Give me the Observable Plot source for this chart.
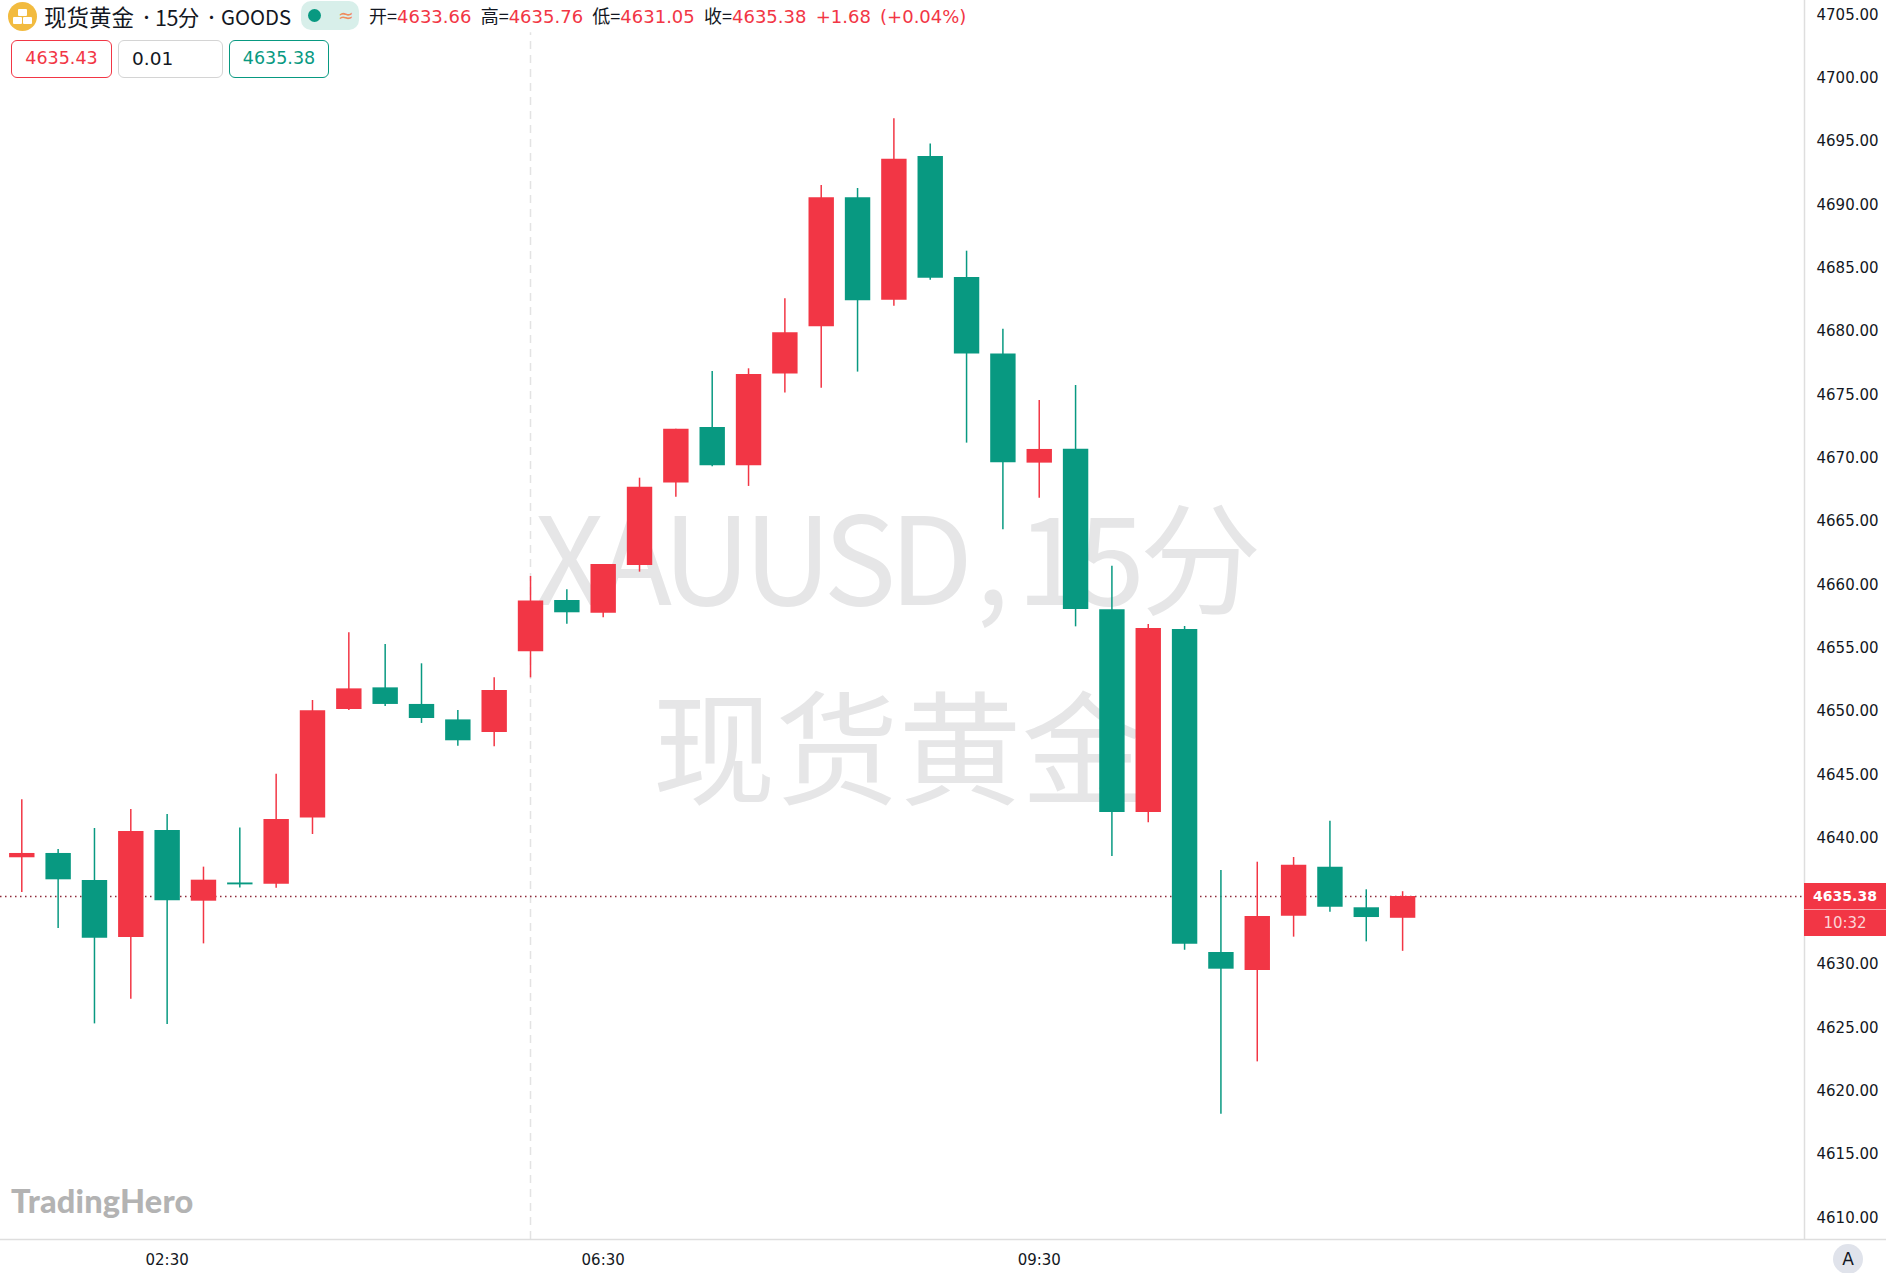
<!DOCTYPE html>
<html>
<head>
<meta charset="utf-8">
<script src="https://cdn.jsdelivr.net/npm/d3@7"></script>
<script src="https://cdn.jsdelivr.net/npm/@observablehq/plot@0.6"></script>
<style>
html,body{margin:0;padding:0;background:#fff;}
#wrap{position:relative;width:1886px;height:1273px;overflow:hidden;font-family:"DejaVu Sans",sans-serif;color:#131722;}
#wrap svg{display:block;}
.ab{position:absolute;white-space:nowrap;}
.cjk{font-family:"Noto Sans CJK SC","DejaVu Sans",sans-serif;}
.box{box-sizing:border-box;border-radius:6px;height:38px;top:40px;line-height:35px;font-size:17.5px;background:#fff;}
.r{color:#f23645;}
.wm-tight{letter-spacing:-7px;}
</style>
</head>
<body>
<div id="wrap"></div>
<script>
const opens  = [4638.44,4638.78,4636.64,4632.14,4640.59,4635.01,4636.45,4636.35,4641.59,4650.15,4651.86,4650.55,4649.33,4648.33,4654.71,4658.76,4657.76,4661.53,4668.05,4672.43,4669.40,4676.64,4680.38,4690.57,4682.48,4693.83,4684.27,4678.22,4669.61,4670.71,4658.02,4642.02,4656.47,4630.96,4629.53,4633.83,4637.70,4634.49,4633.66];
const highs  = [4643.02,4639.09,4640.75,4642.25,4641.86,4637.70,4640.80,4645.04,4650.86,4656.21,4655.29,4653.76,4650.07,4652.65,4660.66,4659.60,4661.60,4668.42,4672.29,4676.85,4677.06,4682.59,4691.54,4691.30,4696.81,4694.81,4686.35,4680.19,4674.56,4675.74,4661.47,4656.86,4656.71,4637.43,4638.09,4638.46,4641.33,4635.91,4635.76];
const lows   = [4635.70,4632.85,4625.32,4627.27,4625.27,4631.64,4636.06,4636.04,4640.28,4650.07,4650.39,4649.05,4647.25,4647.20,4652.65,4656.89,4657.39,4661.00,4666.92,4669.32,4667.77,4675.14,4675.53,4676.80,4682.01,4684.06,4671.19,4664.34,4666.84,4656.68,4638.54,4641.20,4631.14,4618.19,4622.32,4632.17,4634.14,4631.80,4631.05];
const closes = [4638.78,4636.70,4632.09,4640.51,4635.04,4636.67,4636.30,4641.46,4650.05,4651.78,4650.55,4649.44,4647.68,4651.65,4658.73,4657.79,4661.60,4667.71,4672.29,4669.40,4676.61,4679.90,4690.57,4682.43,4693.62,4684.22,4678.22,4669.64,4670.69,4658.05,4642.02,4656.55,4631.61,4629.64,4633.80,4637.85,4634.54,4633.72,4635.38];
const yTicks = [4610,4615,4620,4625,4630,4640,4645,4650,4655,4660,4665,4670,4675,4680,4685,4690,4695,4700,4705];
const xTickBars = [4,16,28];
const xTickLabels = ["02:30","06:30","09:30"];
const lastPrice = 4635.38;
const sessionBreakBar = 14;
const RED = "#f23645", GREEN = "#089981";

const candles = opens.map((o, i) => ({
  bar: i, open: o, high: highs[i], low: lows[i], close: closes[i],
  color: closes[i] >= o ? RED : GREEN
}));
const wmFont = '"Noto Sans CJK SC", sans-serif', wmFill = "#e6e6e7";
const wm = (s, opts) => Plot.text([s], {frameAnchor: "top-left", fontSize: 122, fill: wmFill, fontFamily: wmFont, lineAnchor: "bottom", ...opts});

const plot = Plot.plot({
  width: 1886, height: 1273,
  marginLeft: 0, marginRight: 82, marginTop: 0, marginBottom: 34,
  style: {fontFamily: '"DejaVu Sans", sans-serif', fontSize: "15px", color: "#131722", background: "#fff"},
  x: {type: "linear", domain: [-0.586, 49.06]},
  y: {domain: [4608.29, 4706.15]},
  marks: [
    wm("XAUUSD", {textAnchor: "start", dx: 534, dy: 604, className: "wm-tight"}),
    wm(",", {textAnchor: "start", dx: 975, dy: 604}),
    wm("15", {textAnchor: "start", dx: 1016, dy: 604, className: "wm-tight"}),
    wm("分", {textAnchor: "start", dx: 1139, dy: 604}),
    Plot.text(["现货黄金"], {frameAnchor: "middle", dx: -4, dy: 136, fontSize: 123, fill: wmFill, fontFamily: wmFont}),
    Plot.ruleX([sessionBreakBar], {y1: 4608.29, y2: 4703.6, stroke: "#e3e3e3", strokeWidth: 1.5, strokeDasharray: "8 6"}),
    Plot.ruleY([lastPrice], {stroke: "#8f2a38", strokeWidth: 1.4, strokeDasharray: "1.5 3.5"}),
    Plot.ruleX(candles, {x: "bar", y1: "low", y2: "high", stroke: "color", strokeWidth: 1.5}),
    Plot.ruleX(candles, {x: "bar", y1: "open", y2: "close", stroke: "color", strokeWidth: 25.4}),
    Plot.ruleY([4608.29], {stroke: "#dedede", strokeWidth: 1.5, insetRight: -82}),
    Plot.ruleX([49.06], {stroke: "#dedede", strokeWidth: 1.5}),
    Plot.axisY({anchor: "right", ticks: yTicks, tickSize: 0, tickPadding: 12, tickFormat: d3.format(".2f"), label: null}),
    Plot.axisX({ticks: xTickBars, tickSize: 0, tickPadding: 15, tickFormat: b => xTickLabels[xTickBars.indexOf(b)], label: null})
  ]
});

const wrap = document.getElementById("wrap");
wrap.appendChild(plot);
const add = (html, css, cls = "") => {
  const d = document.createElement("div");
  d.className = "ab " + cls; d.style.cssText = css; d.innerHTML = html;
  wrap.appendChild(d); return d;
};

// header
add(`<div style="position:absolute;left:10px;top:7px;width:9px;height:7px;background:#fff;border-radius:1px"></div>
     <div style="position:absolute;left:5px;top:15px;width:9px;height:7px;background:#fff;border-radius:1px"></div>
     <div style="position:absolute;left:15px;top:15px;width:9px;height:7px;background:#fff;border-radius:1px"></div>`,
    "left:8px;top:2px;width:29px;height:29px;border-radius:50%;background:#f2bb3f;");
add("现货黄金", "left:44px;top:2px;font-size:22.5px;line-height:29px;", "cjk");
add("•", "left:139px;top:2px;font-size:15px;line-height:29px;", "cjk");
add("15分", "left:155px;top:2px;font-size:21.5px;line-height:29px;letter-spacing:-0.5px;", "cjk");
add("•", "left:204px;top:2px;font-size:15px;line-height:29px;", "cjk");
add("GOODS", "left:221px;top:2px;font-size:20.3px;line-height:29px;", "cjk");
add(`<span style="position:absolute;left:7px;top:8px;width:13px;height:13px;border-radius:50%;background:#089981"></span>
     <span style="position:absolute;left:37px;top:0;font-size:19px;line-height:29px;color:#ef8d5e">≈</span>`,
    "left:301px;top:1px;width:58px;height:29px;border-radius:10px;background:#d8efea;");
add(`<span class="cjk">开=</span><span class="r">4633.66</span> <span class="cjk">高=</span><span class="r">4635.76</span> <span class="cjk">低=</span><span class="r">4631.05</span> <span class="cjk">收=</span><span class="r">4635.38</span> <span class="r">+1.68 (+0.04%)</span>`,
    "left:369px;top:1px;font-size:18px;line-height:29px;word-spacing:3.5px;");

// order boxes
add("4635.43", "left:11px;width:101px;border:1.5px solid #f23645;color:#f23645;text-align:center;", "box");
add("0.01", "left:118px;width:105px;border:1.5px solid #d4d4d4;padding-left:13px;font-size:18.5px;", "box");
add("4635.38", "left:229px;width:100px;border:1.5px solid #089981;color:#089981;text-align:center;", "box");

// last-price tag, placed by the y scale
const yLast = plot.scale("y").apply(lastPrice);
add(`<div style="height:26.5px;line-height:27px;font-weight:bold;font-size:14px;color:#fff;border-bottom:1px solid #f9a0a8">4635.38</div>
     <div style="line-height:26px;font-size:15px;color:#fcd4d7">10:32</div>`,
    `left:1804px;top:${yLast - 13.5}px;width:82px;height:53.5px;background:#f23645;text-align:center;`);

// logo and auto button
add("TradingHero", "left:11px;top:1181px;font-family:Lato,sans-serif;font-weight:900;font-size:32.5px;line-height:40px;letter-spacing:0.2px;color:#b3b3b3;");
add("A", "left:1833px;top:1244px;width:30px;height:30px;border-radius:50%;background:#e0e3eb;text-align:center;line-height:30px;font-size:17px;");
</script>
</body>
</html>
